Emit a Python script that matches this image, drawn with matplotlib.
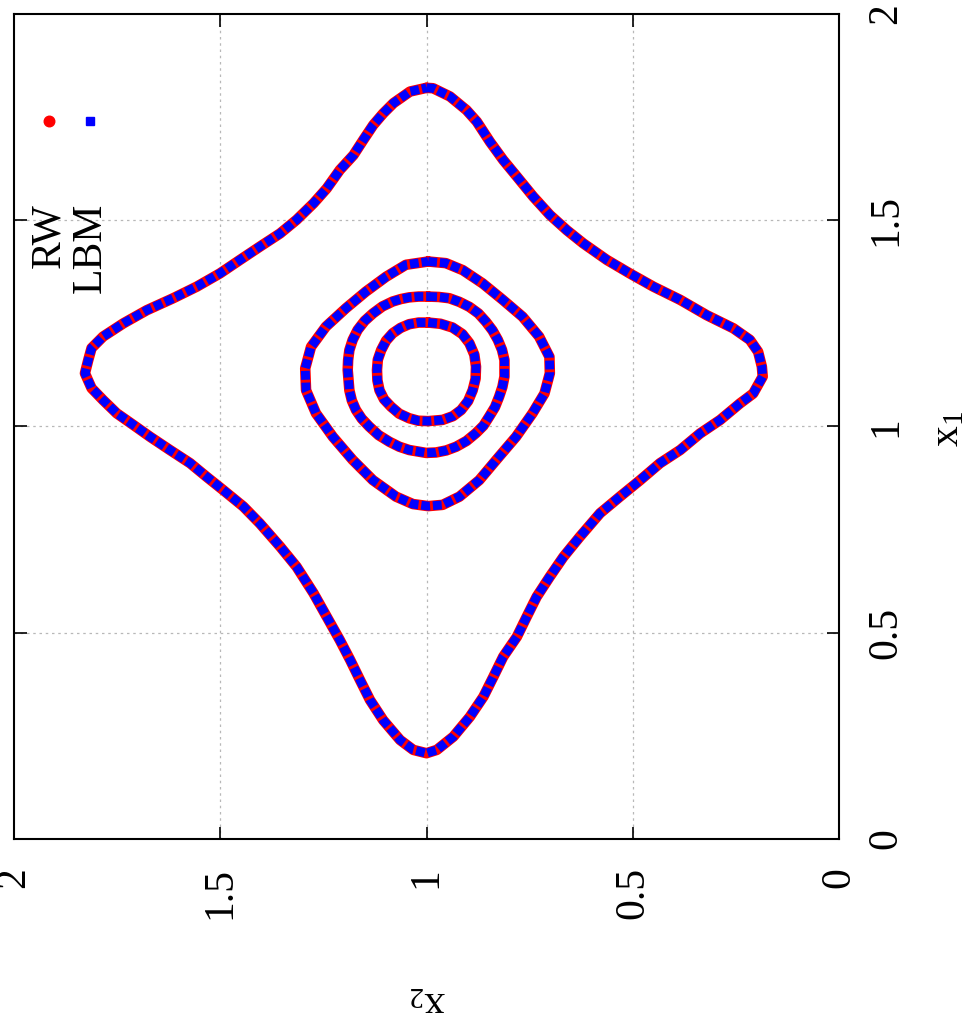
import numpy as np
import matplotlib
matplotlib.use("Agg")
import matplotlib.pyplot as plt

# ---------------- data (x2, x1) ----------------
star_x2 = [1.000, 0.984, 0.943, 0.903, 0.878, 0.846, 0.814, 0.781, 0.741, 0.701,
           0.660, 0.620, 0.563, 0.507, 0.450, 0.385, 0.321, 0.256, 0.216, 0.196,
           0.187, 0.185, 0.208, 0.240, 0.288, 0.337, 0.385, 0.434, 0.482, 0.531,
           0.579, 0.628, 0.668, 0.701, 0.733, 0.757, 0.781, 0.814, 0.838, 0.862,
           0.895, 0.935, 0.975, 1.000, 1.032, 1.064, 1.105, 1.137, 1.161, 1.185,
           1.210, 1.242, 1.274, 1.315, 1.355, 1.404, 1.444, 1.493, 1.533, 1.573,
           1.622, 1.670, 1.711, 1.751, 1.784, 1.812, 1.828, 1.820, 1.812, 1.784,
           1.735, 1.678, 1.614, 1.557, 1.501, 1.452, 1.404, 1.355, 1.315, 1.274,
           1.242, 1.210, 1.177, 1.153, 1.129, 1.105, 1.080, 1.040]
star_x1 = [1.821, 1.820, 1.800, 1.767, 1.739, 1.690, 1.646, 1.606, 1.557, 1.513,
           1.476, 1.444, 1.404, 1.371, 1.339, 1.307, 1.270, 1.238, 1.210, 1.181,
           1.145, 1.121, 1.080, 1.056, 1.016, 0.983, 0.943, 0.911, 0.870, 0.830,
           0.790, 0.733, 0.684, 0.636, 0.587, 0.539, 0.490, 0.442, 0.393, 0.345,
           0.296, 0.248, 0.216, 0.208, 0.216, 0.240, 0.288, 0.337, 0.385, 0.434,
           0.482, 0.539, 0.596, 0.660, 0.709, 0.765, 0.806, 0.846, 0.878, 0.911,
           0.943, 0.975, 1.004, 1.032, 1.064, 1.093, 1.129, 1.161, 1.190, 1.218,
           1.250, 1.282, 1.311, 1.339, 1.371, 1.404, 1.436, 1.468, 1.501, 1.541,
           1.577, 1.622, 1.658, 1.695, 1.731, 1.759, 1.784, 1.812]

ring1_x2 = [0.996, 0.966, 0.937, 0.913, 0.896, 0.884, 0.880, 0.881, 0.888, 0.899,
            0.916, 0.936, 0.961, 0.996, 1.020, 1.042, 1.066, 1.086, 1.103, 1.114,
            1.119, 1.120, 1.118, 1.110, 1.098, 1.082, 1.063, 1.042, 1.019]
ring1_x1 = [1.252, 1.249, 1.240, 1.224, 1.202, 1.174, 1.145, 1.116, 1.088, 1.062,
            1.040, 1.025, 1.016, 1.013, 1.014, 1.020, 1.031, 1.048, 1.066, 1.088,
            1.112, 1.137, 1.162, 1.185, 1.208, 1.226, 1.239, 1.248, 1.252]

ring2_x2 = [0.996, 0.970, 0.945, 0.920, 0.896, 0.874, 0.856, 0.840, 0.827, 0.817,
            0.811, 0.811, 0.816, 0.824, 0.834, 0.848, 0.862, 0.880, 0.903, 0.928,
            0.952, 0.977, 1.001, 1.042, 1.066, 1.090, 1.116, 1.139, 1.157, 1.171,
            1.181, 1.187, 1.191, 1.190, 1.187, 1.179, 1.167, 1.150, 1.130, 1.107,
            1.082, 1.062, 1.042, 1.019]
ring2_x1 = [1.315, 1.314, 1.311, 1.302, 1.290, 1.274, 1.254, 1.233, 1.210, 1.186,
            1.161, 1.121, 1.096, 1.072, 1.047, 1.024, 1.002, 0.984, 0.965, 0.951,
            0.942, 0.937, 0.936, 0.943, 0.951, 0.963, 0.979, 1.000, 1.019, 1.040,
            1.063, 1.088, 1.137, 1.161, 1.185, 1.210, 1.234, 1.256, 1.274, 1.291,
            1.303, 1.309, 1.313, 1.315]

ring3_x2 = [0.996, 0.953, 0.912, 0.864, 0.815, 0.767, 0.727, 0.702, 0.701, 0.714,
            0.743, 0.783, 0.824, 0.872, 0.920, 0.961, 0.996, 1.033, 1.074, 1.130,
            1.179, 1.227, 1.268, 1.292, 1.294, 1.280, 1.244, 1.195, 1.147, 1.098,
            1.050]
ring3_x1 = [1.400, 1.396, 1.379, 1.347, 1.307, 1.266, 1.218, 1.169, 1.129, 1.080,
            1.032, 0.975, 0.927, 0.870, 0.830, 0.810, 0.807, 0.812, 0.830, 0.870,
            0.919, 0.975, 1.032, 1.088, 1.141, 1.193, 1.242, 1.287, 1.327, 1.363,
            1.392]

contours = [(star_x2, star_x1), (ring3_x2, ring3_x1),
            (ring2_x2, ring2_x1), (ring1_x2, ring1_x1)]

series_labels = ["RW", "LBM"]
series_colors = ["#ff0000", "#0000ff"]
tick_vals = [0, 0.5, 1, 1.5, 2]
tick_labels = ["0", "0.5", "1", "1.5", "2"]

# ---------------- figure ----------------
plt.rcParams['font.family'] = ['Liberation Serif', 'DejaVu Serif']
plt.rcParams['mathtext.fontset'] = 'custom'
plt.rcParams['mathtext.rm'] = 'Liberation Serif'
plt.rcParams['mathtext.it'] = 'Liberation Serif:italic'

W, H = 967, 1021
fig = plt.figure(figsize=(W / 100, H / 100), dpi=100)
L, R, T, B = 14, 839, 14, 839
ax = fig.add_axes([L / W, 1 - B / H, (R - L) / W, (B - T) / H])

ax.set_xlim(2, 0)
ax.set_ylim(0, 2)

for cx, cy in contours:
    xs = np.r_[cx, cx[0]]
    ys = np.r_[cy, cy[0]]
    # RW (red dots) underneath
    ax.plot(xs, ys, color=series_colors[0], lw=7.6, solid_capstyle='round',
            solid_joinstyle='round', zorder=3)
    # LBM (blue squares) on top
    ax.plot(xs, ys, color=series_colors[1], lw=6.4, dashes=(1.0, 0.32),
            dash_capstyle='butt', dash_joinstyle='round', zorder=4)

# grid
for v in [0.5, 1, 1.5]:
    ax.axvline(v, color='#b8b8b8', lw=0.9, ls=(0, (2, 3)), zorder=1)
    ax.axhline(v, color='#b8b8b8', lw=0.9, ls=(0, (2, 3)), zorder=1)

ax.set_xticks(tick_vals)
ax.set_xticklabels(tick_labels)
ax.set_yticks(tick_vals)
ax.set_yticklabels(tick_labels)
ax.tick_params(axis='both', direction='in', length=9, width=1.2,
               top=True, bottom=True, left=True, right=True,
               labelleft=False, labelright=True, labelbottom=True, labeltop=False,
               labelsize=30, pad=20)
for lab in ax.get_xticklabels():
    lab.set_rotation(90)
    lab.set_ha('center')
    lab.set_va('top')
for lab in ax.get_yticklabels():
    lab.set_rotation(90)
    lab.set_ha('left')
    lab.set_va('center')
for s in ax.spines.values():
    s.set_linewidth(1.5)

# axis labels
fig.text(948 / W, 1 - 429 / H, r'x$_\mathrm{1}$', rotation=90, fontsize=30,
         ha='center', va='center')
fig.text(428 / W, 1 - 1002 / H, r'x$_\mathrm{2}$', rotation=180, fontsize=30,
         ha='center', va='center')

# legend (rotated, drawn manually)
leg_x = [(49 - L) / (R - L), (90 - L) / (R - L)]
mark_y = (B - 121) / (B - T)
text_top = (B - 203) / (B - T)
ax.plot([leg_x[0]], [mark_y], 'o', color=series_colors[0], ms=7.6,
        transform=ax.transAxes, clip_on=False)
ax.plot([leg_x[1]], [mark_y], 's', color=series_colors[1], ms=6.2,
        transform=ax.transAxes, clip_on=False)
for xx, lab in zip(leg_x, series_labels):
    ax.text(xx, text_top, lab, rotation=90, fontsize=30, ha='center', va='top',
            transform=ax.transAxes)

fig.savefig("out.png", dpi=100)
